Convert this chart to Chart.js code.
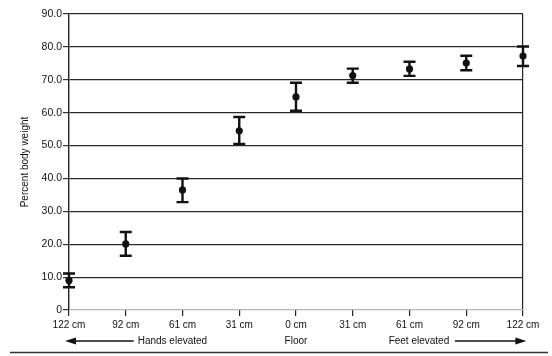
<!DOCTYPE html>
<html><head><meta charset="utf-8">
<script src="https://cdn.jsdelivr.net/npm/chart.js@4/dist/chart.umd.min.js"></script>
<style>html,body{margin:0;padding:0;background:#fff}#wrap{width:552px;height:356px;position:relative}</style>
</head><body><div id="wrap"><canvas id="c" width="552" height="356"></canvas></div>
<script>
const categories = ['122 cm','92 cm','61 cm','31 cm','0 cm','31 cm','61 cm','92 cm','122 cm'];
const means = [9.0, 20.1, 36.5, 54.5, 64.8, 71.3, 73.3, 75.1, 77.2];
const lowerBounds = [6.9, 16.5, 32.8, 50.5, 60.6, 69.1, 71.2, 72.9, 74.2];
const upperBounds = [11.1, 23.7, 40.0, 58.7, 69.1, 73.4, 75.5, 77.3, 80.1];
const yTickValues = [0, 10, 20, 30, 40, 50, 60, 70, 80, 90];
const axisTitle = 'Percent body weight';
const directionLabels = ['Hands elevated', 'Floor', 'Feet elevated'];

const FONT = '"Liberation Sans", Arial, Helvetica, sans-serif';
const INK = '#111';

const errorBars = {
  id: 'errorBars',
  beforeDatasetsDraw(chart) {
    const xs = chart.scales.x, ys = chart.scales.y, ctx = chart.ctx;
    ctx.save();
    ctx.strokeStyle = INK;
    ctx.lineWidth = 2.4;
    ctx.lineCap = 'butt';
    for (let i = 0; i < means.length; i++) {
      const x = xs.getPixelForValue(i);
      const yt = ys.getPixelForValue(upperBounds[i]);
      const yb = ys.getPixelForValue(lowerBounds[i]);
      ctx.beginPath();
      ctx.moveTo(x, yt); ctx.lineTo(x, yb);
      ctx.moveTo(x - 6, yt); ctx.lineTo(x + 6, yt);
      ctx.moveTo(x - 6, yb); ctx.lineTo(x + 6, yb);
      ctx.stroke();
    }
    ctx.restore();
  }
};

const bottomLabels = {
  id: 'bottomLabels',
  afterDraw(chart) {
    const xs = chart.scales.x, ctx = chart.ctx;
    const y = 341;
    ctx.save();
    ctx.fillStyle = INK;
    ctx.strokeStyle = INK;
    ctx.font = '10px ' + FONT;
    ctx.textBaseline = 'middle';
    // Hands elevated with left arrow
    ctx.textAlign = 'left';
    ctx.fillText(directionLabels[0], xs.getPixelForValue(1.21), y);
    const a1 = xs.getPixelForValue(-0.07), a2 = xs.getPixelForValue(1.14);
    ctx.lineWidth = 1.3;
    ctx.beginPath(); ctx.moveTo(a1 + 8, y); ctx.lineTo(a2, y); ctx.stroke();
    ctx.beginPath(); ctx.moveTo(a1, y); ctx.lineTo(a1 + 11, y - 3.5); ctx.lineTo(a1 + 11, y + 3.5); ctx.closePath(); ctx.fill();
    // Floor
    ctx.textAlign = 'center';
    ctx.fillText(directionLabels[1], xs.getPixelForValue(4), y);
    // Feet elevated with right arrow
    ctx.textAlign = 'right';
    ctx.fillText(directionLabels[2], xs.getPixelForValue(6.70), y);
    const b1 = xs.getPixelForValue(6.80), b2 = xs.getPixelForValue(8.06);
    ctx.beginPath(); ctx.moveTo(b1, y); ctx.lineTo(b2 - 8, y); ctx.stroke();
    ctx.beginPath(); ctx.moveTo(b2, y); ctx.lineTo(b2 - 11, y - 3.5); ctx.lineTo(b2 - 11, y + 3.5); ctx.closePath(); ctx.fill();
    // page rule at bottom
    ctx.strokeStyle = '#333';
    ctx.lineWidth = 1.5;
    ctx.beginPath(); ctx.moveTo(10, 352.5); ctx.lineTo(548, 352.5); ctx.stroke();
    ctx.restore();
  }
};

new Chart(document.getElementById('c'), {
  type: 'scatter',
  data: {
    datasets: [{
      data: means.map((v, i) => ({ x: i, y: v })),
      pointRadius: 3.6,
      pointHoverRadius: 3.6,
      backgroundColor: INK,
      borderWidth: 0,
      showLine: false,
      clip: false
    }]
  },
  options: {
    responsive: false,
    devicePixelRatio: 1,
    animation: false,
    events: [],
    layout: { padding: { top: 14, right: 29, bottom: 0, left: 0 } },
    plugins: { legend: { display: false }, tooltip: { enabled: false } },
    scales: {
      x: {
        type: 'linear',
        min: 0, max: 8,
        afterBuildTicks(scale) { scale.ticks = categories.map((c, i) => ({ value: i })); },
        afterFit(scale) { scale.height = 46; },
        ticks: {
          callback: (v) => categories[v],
          font: { family: FONT, size: 10 },
          color: INK,
          padding: 3,
          maxRotation: 0,
          autoSkip: false
        },
        grid: {
          drawOnChartArea: true,
          color: (c) => (c.tick && c.tick.value === 8) ? '#222' : 'rgba(0,0,0,0)',
          tickColor: '#222',
          tickLength: 6,
          lineWidth: 1.2
        },
        border: { display: false }
      },
      y: {
        type: 'linear',
        min: 0, max: 90,
        afterBuildTicks(scale) { scale.ticks = yTickValues.map(v => ({ value: v })); },
        afterFit(scale) { scale.width = 69; },
        ticks: {
          callback: (v) => v === 0 ? '0' : v.toFixed(1),
          font: { family: FONT, size: 10.5 },
          color: INK,
          padding: 1
        },
        grid: {
          color: (c) => (c.tick && c.tick.value === 0) ? '#b5b5b5' : '#2a2a2a',
          tickColor: '#333',
          tickLength: 6,
          lineWidth: 1.2
        },
        border: { display: true, color: '#222', width: 1.4 },
        title: {
          display: true,
          text: axisTitle,
          font: { family: FONT, size: 10 },
          color: INK,
          padding: { top: 19, bottom: 0 }
        }
      }
    }
  },
  plugins: [errorBars, bottomLabels]
});
</script></body></html>
